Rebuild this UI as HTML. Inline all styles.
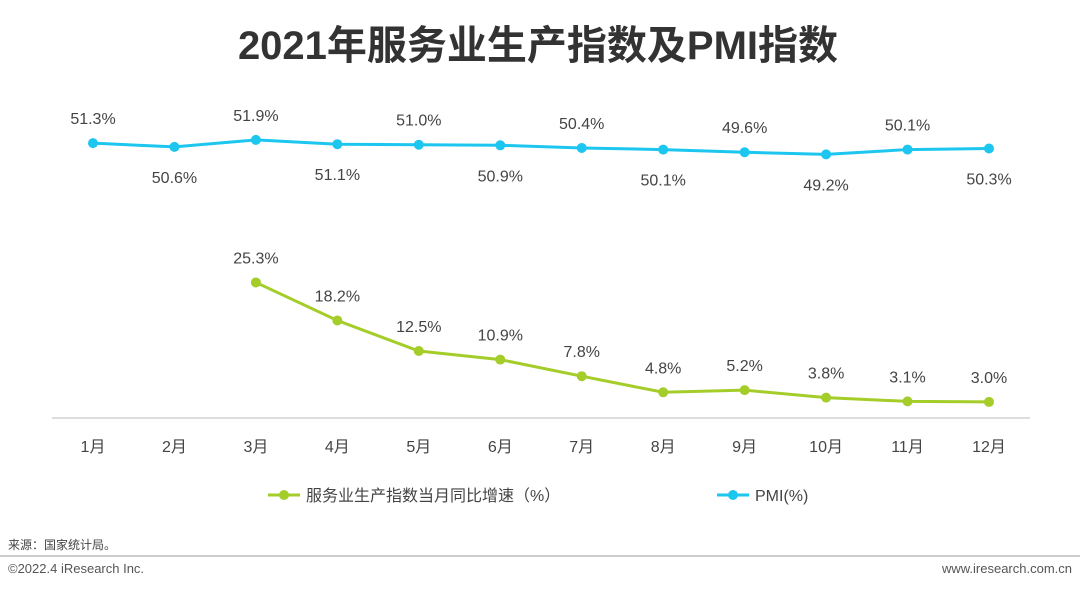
<!DOCTYPE html>
<html><head><meta charset="utf-8"><style>
body{margin:0;background:#fff;width:1080px;height:591px;overflow:hidden;font-family:"Liberation Sans","Noto Sans CJK SC",sans-serif;}
</style></head><body>
<svg id="c" width="1080" height="591" xmlns="http://www.w3.org/2000/svg" style="font-family:'Liberation Sans','Noto Sans CJK SC',sans-serif">
<text x="538" y="59" text-anchor="middle" font-size="40" font-weight="bold" fill="#333">2021年服务业生产指数及PMI指数</text>
<line x1="52" y1="418" x2="1030" y2="418" stroke="#bbb" stroke-width="1"/>
<g id="ticks"></g><g id="series"></g>
<g>
<line x1="268" y1="495" x2="300" y2="495" stroke="#a5cd2a" stroke-width="3"/>
<circle cx="284" cy="495" r="5" fill="#a5cd2a"/>
<text x="306" y="501" font-size="16" fill="#444">服务业生产指数当月同比增速（%）</text>
<line x1="717" y1="495" x2="749" y2="495" stroke="#1cc6ef" stroke-width="3"/>
<circle cx="733" cy="495" r="5" fill="#1cc6ef"/>
<text x="755" y="501" font-size="16" fill="#444">PMI(%)</text>
</g>
<text x="8" y="549" font-size="12" fill="#444">来源：国家统计局。</text>
<line x1="0" y1="556" x2="1080" y2="556" stroke="#999" stroke-width="1"/>
<text x="8" y="573" font-size="13" fill="#555">©2022.4 iResearch Inc.</text>
<text x="1072" y="573" text-anchor="end" font-size="13" fill="#555">www.iresearch.com.cn</text>
</svg>
<script>
const months=["1月","2月","3月","4月","5月","6月","7月","8月","9月","10月","11月","12月"];
const pmi=[51.3,50.6,51.9,51.1,51.0,50.9,50.4,50.1,49.6,49.2,50.1,50.3];
const growth=[null,null,25.3,18.2,12.5,10.9,7.8,4.8,5.2,3.8,3.1,3.0];
const NS="http://www.w3.org/2000/svg";
const xs=i=>93+i*(989-93)/11;
const ys=v=>418-5.358*v;
function mk(t,a,p){const e=document.createElementNS(NS,t);for(const k in a)e.setAttribute(k,a[k]);p.appendChild(e);return e;}
const tk=document.getElementById('ticks'),sr=document.getElementById('series');
months.forEach((m,i)=>{const t=mk('text',{x:xs(i),y:452,'text-anchor':'middle','font-size':16,fill:'#444'},tk);t.textContent=m;

});
function draw(vals,color,name,alt){
 let d='';vals.forEach((v,i)=>{if(v==null)return;d+=(d?'L':'M')+xs(i)+' '+ys(v);});
 const p=mk('path',{d:d,fill:'none',stroke:color,'stroke-width':3},sr);
 
 
 vals.forEach((v,i)=>{if(v==null)return;
  const c=mk('circle',{cx:xs(i),cy:ys(v),r:5,fill:color},sr);
  
  
  const below=alt&&i%2==1;
  const t=mk('text',{x:xs(i),y:ys(v)+(below?36:-19),'text-anchor':'middle','font-size':16,fill:'#444'},sr);
  t.textContent=v.toFixed(1)+'%';
  
  });
}
draw(pmi,'#1cc6ef','pmi',true);
draw(growth,'#a5cd2a','growth',false);
</script>
</body></html>
